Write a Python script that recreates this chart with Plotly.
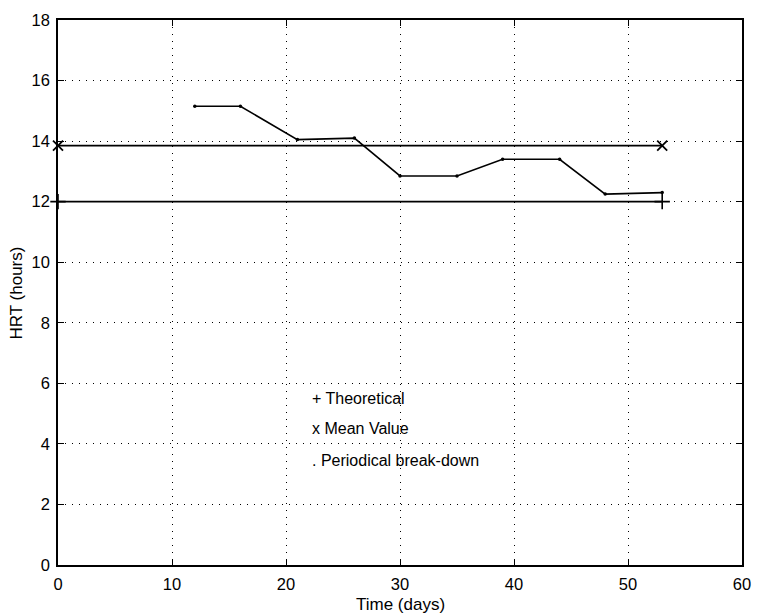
import plotly.graph_objects as go

# Data
days_breakdown = [12, 16, 21, 26, 30, 35, 39, 44, 48, 53]
hrt_breakdown = [15.15, 15.15, 14.05, 14.1, 12.85, 12.85, 13.4, 13.4, 12.25, 12.3]

days_ends = [0, 53]
hrt_theoretical = [12.0, 12.0]
hrt_mean = [13.85, 13.85]

legend_lines = ["+ Theoretical", "x Mean Value", ". Periodical break-down"]
legend_y = [5.5, 4.5, 3.45]
legend_x = 22.1

x_ticks = [0, 10, 20, 30, 40, 50, 60]
y_ticks = [0, 2, 4, 6, 8, 10, 12, 14, 16, 18]

FONT = "Liberation Sans, Arial, Helvetica, sans-serif"

fig = go.Figure()
fig.add_trace(go.Scatter(
    x=days_ends, y=hrt_theoretical, mode="lines+markers",
    line=dict(color="black", width=1.6),
    marker=dict(symbol="cross-thin", size=11, line=dict(color="black", width=1.6)),
    showlegend=False, cliponaxis=False))
fig.add_trace(go.Scatter(
    x=days_ends, y=hrt_mean, mode="lines+markers",
    line=dict(color="black", width=1.6),
    marker=dict(symbol="x-thin", size=10, line=dict(color="black", width=1.8)),
    showlegend=False, cliponaxis=False))
fig.add_trace(go.Scatter(
    x=days_breakdown, y=hrt_breakdown, mode="lines+markers",
    line=dict(color="black", width=1.6),
    marker=dict(symbol="circle", size=3.5, color="black"),
    showlegend=False))

for txt, yy in zip(legend_lines, legend_y):
    fig.add_annotation(x=legend_x, y=yy, xref="x", yref="y", text=txt,
                       showarrow=False, xanchor="left", yanchor="middle",
                       font=dict(family=FONT, size=16, color="black"))

fig.add_annotation(x=0.5, y=-0.073, xref="paper", yref="paper", text="Time (days)",
                   showarrow=False, xanchor="center", yanchor="middle",
                   font=dict(family=FONT, size=17, color="black"))
fig.add_annotation(x=-0.06, y=0.5, xref="paper", yref="paper", text="HRT (hours)",
                   showarrow=False, xanchor="center", yanchor="middle", textangle=-90,
                   font=dict(family=FONT, size=17, color="black"))

axis_common = dict(
    showline=True, linecolor="black", linewidth=1.6, mirror="ticks",
    ticks="inside", ticklen=6, tickwidth=1.2, tickcolor="black",
    showgrid=True, gridcolor="black", gridwidth=1.2, griddash="1px,6px",
    zeroline=False, tickfont=dict(family=FONT, size=16.5, color="black"),
)

fig.update_xaxes(range=[0, 60], tickvals=x_ticks, ticklabelstandoff=3, **axis_common)
fig.update_yaxes(range=[0, 18], tickvals=y_ticks, ticklabelstandoff=3, **axis_common)

fig.update_layout(
    width=762, height=616,
    margin=dict(l=58, r=11, t=20, b=51),
    plot_bgcolor="white", paper_bgcolor="white",
)

fig.write_html("out.html")
